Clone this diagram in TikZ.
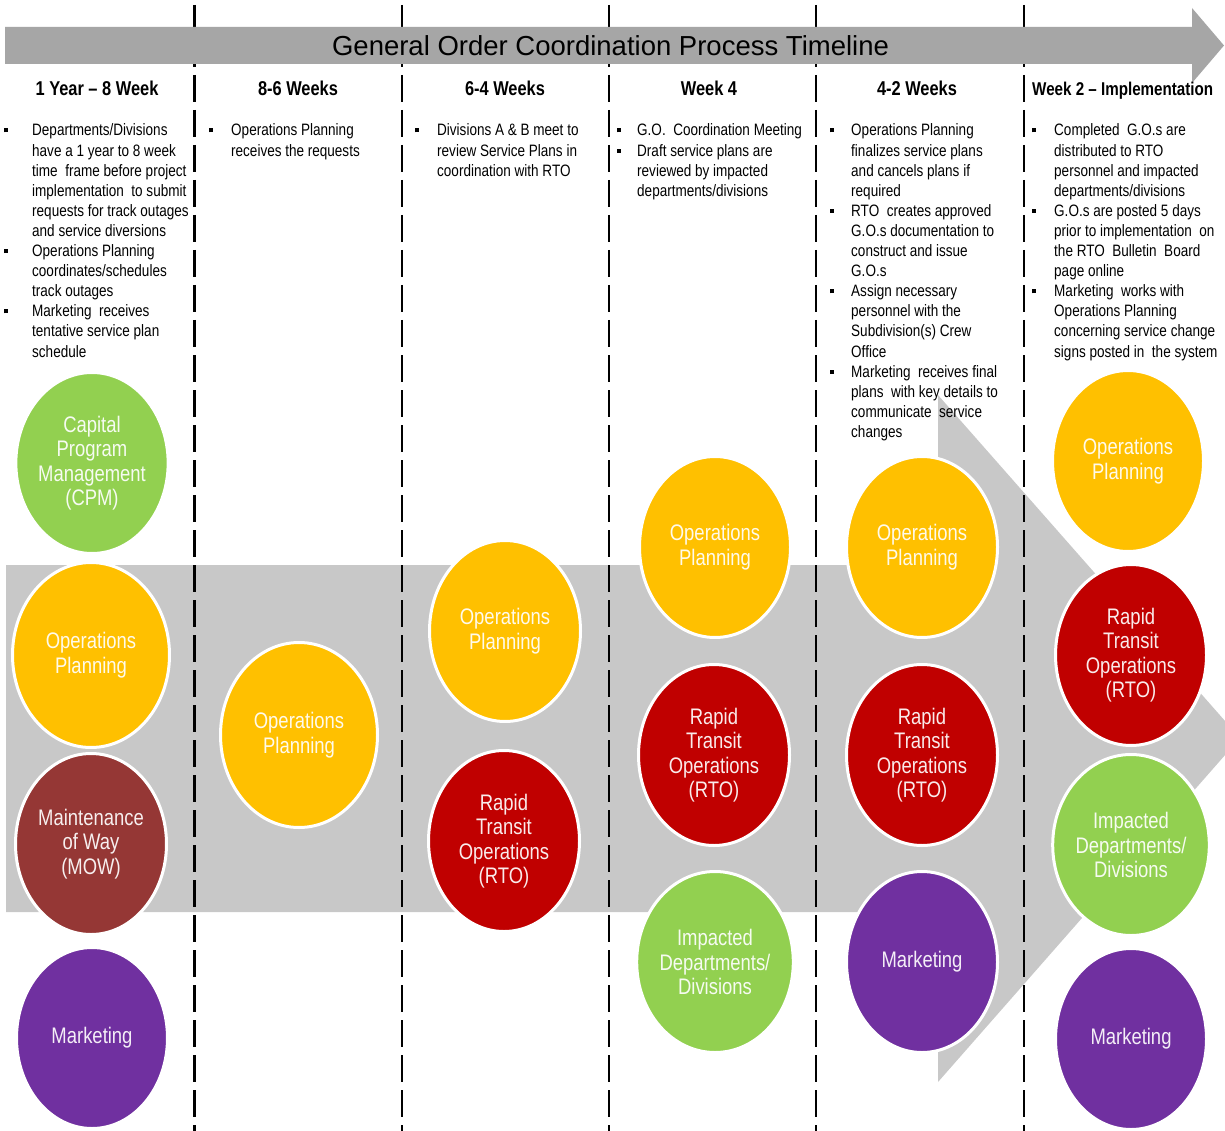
\documentclass[tikz,border=0pt]{standalone}
\usepackage{fontspec}
\setmainfont{Liberation Sans}[FakeStretch=0.82]
\newfontfamily\titlefont{Liberation Sans}
\usetikzlibrary{shapes.geometric}
\definecolor{cyel}{HTML}{FFC000}
\definecolor{cred}{HTML}{C00000}
\definecolor{cgrn}{HTML}{92D050}
\definecolor{cpur}{HTML}{7030A0}
\definecolor{cmow}{HTML}{953735}
\definecolor{bandgray}{HTML}{C8C8C8}
\definecolor{topgray}{HTML}{A6A6A6}
\newcommand{\bsq}{\rule[3.5pt]{4pt}{4pt}}
\tikzset{
  circ/.style={ellipse, fill=#1, draw=white, line width=3pt, minimum width=151pt,
    minimum height=181pt, inner sep=0pt, text=#1!8!white, align=center,
    font=\fontsize{22.5}{24.5}\selectfont},
  bigcirc/.style={minimum width=157pt, minimum height=185pt},
  colhead/.style={anchor=base, inner sep=0pt, font=\fontsize{20}{22}\selectfont\bfseries},
  coltext/.style={anchor=base west, inner sep=0pt, font=\fontsize{16.5}{20.1}\selectfont, align=left},
  divider/.style={line width=2.5pt, dash pattern=on 27pt off 8pt},
  titletext/.style={anchor=base, inner sep=0pt, font=\titlefont\fontsize{27.5}{30}\selectfont},
}
\begin{document}
\begin{tikzpicture}[x=1pt,y=-1pt]
\useasboundingbox (0,0) rectangle (1225,1131);
\clip (0,0) rectangle (1225,1131);
\fill[white] (0,0) rectangle (1225,1131);

% big background arrow
\fill[bandgray] (6,565) -- (938,565) -- (938,395) -- (1240,738) -- (938,1082) -- (938,912) -- (6,912) -- cycle;

% dividers
\foreach \name/\xx in {d1/194.5, d2/402, d3/609, d4/816, d5/1024}{
  \coordinate (\name t) at (\xx,5);
  \coordinate (\name b) at (\xx,1131);
  \draw[divider] (\name t) -- (\name b);
}

% top arrow
\fill[topgray] (5,27) -- (1192,27) -- (1192,8) -- (1224,45.5) -- (1192,83) -- (1192,64) -- (5,64) -- cycle;
\node[titletext] (title) at (610.5,56) {General Order Coordination Process Timeline};

% column headers
\node[colhead] (h1) at (97,96) {1 Year -- 8 Week};
\node[colhead] (h2) at (298,96) {8-6 Weeks};
\node[colhead] (h3) at (505,96) {6-4 Weeks};
\node[colhead] (h4) at (709,96) {Week 4};
\node[colhead] (h5) at (917,96) {4-2 Weeks};
\node[colhead, anchor=base west, font=\fontsize{18.5}{22}\selectfont\bfseries] (h6) at (1032,96) {Week 2 -- Implementation};

% column texts
\node[coltext] (t1) at (4,136) {\begin{tabular}[t]{@{}p{28pt}@{}l@{}}
\bsq & Departments/Divisions\\
 & have a 1 year to 8 week\\
 & time\ \ frame before project\\
 & implementation\ \ to submit\\
 & requests for track outages\\
 & and service diversions\\
\bsq & Operations Planning\\
 & coordinates/schedules\\
 & track outages\\
\bsq & Marketing\ \ receives\\
 & tentative service plan\\
 & schedule
\end{tabular}};

\node[coltext] (t2) at (209,136) {\begin{tabular}[t]{@{}p{22pt}@{}l@{}}
\bsq & Operations Planning\\
 & receives the requests
\end{tabular}};

\node[coltext] (t3) at (415,136) {\begin{tabular}[t]{@{}p{22pt}@{}l@{}}
\bsq & Divisions A \& B meet to\\
 & review Service Plans in\\
 & coordination with RTO
\end{tabular}};

\node[coltext] (t4) at (617,136) {\begin{tabular}[t]{@{}p{20pt}@{}l@{}}
\bsq & G.O.\ \ Coordination Meeting\\
\bsq & Draft service plans are\\
 & reviewed by impacted\\
 & departments/divisions
\end{tabular}};

\node[coltext] (t5) at (830,136) {\begin{tabular}[t]{@{}p{21pt}@{}l@{}}
\bsq & Operations Planning\\
 & finalizes service plans\\
 & and cancels plans if\\
 & required\\
\bsq & RTO\ \ creates approved\\
 & G.O.s documentation to\\
 & construct and issue\\
 & G.O.s\\
\bsq & Assign necessary\\
 & personnel with the\\
 & Subdivision(s) Crew\\
 & Office\\
\bsq & Marketing\ \ receives final\\
 & plans\ \ with key details to\\
 & communicate\ \ service\\
 & changes
\end{tabular}};

\node[coltext] (t6) at (1032,136) {\begin{tabular}[t]{@{}p{22pt}@{}l@{}}
\bsq & Completed\ \ G.O.s are\\
 & distributed to RTO\\
 & personnel and impacted\\
 & departments/divisions\\
\bsq & G.O.s are posted 5 days\\
 & prior to implementation\ \ on\\
 & the RTO\ \ Bulletin\ \ Board\\
 & page online\\
\bsq & Marketing\ \ works with\\
 & Operations Planning\\
 & concerning service change\\
 & signs posted in\ \ the system
\end{tabular}};

% circles
\node[circ=cgrn] (c1a) at (92,463) {Capital\\Program\\Management\\(CPM)};
\node[circ=cyel, bigcirc] (c1b) at (91,655) {Operations\\Planning};
\node[circ=cmow] (c1c) at (91,844) {Maintenance\\of Way\\(MOW)};
\node[circ=cpur] (c1d) at (92,1038) {Marketing};

\node[circ=cyel, bigcirc] (c2a) at (299,735) {Operations\\Planning};

\node[circ=cyel] (c3a) at (505,631) {Operations\\Planning};
\node[circ=cred] (c3b) at (504,841) {Rapid\\Transit\\Operations\\(RTO)};

\node[circ=cyel] (c4a) at (715,547) {Operations\\Planning};
\node[circ=cred] (c4b) at (714,755) {Rapid\\Transit\\Operations\\(RTO)};
\node[circ=cgrn] (c4c) at (715,962) {Impacted\\Departments/\\Divisions};

\node[circ=cyel] (c5a) at (922,547) {Operations\\Planning};
\node[circ=cred] (c5b) at (922,755) {Rapid\\Transit\\Operations\\(RTO)};
\node[circ=cpur] (c5c) at (922,962) {Marketing};

\node[circ=cyel] (c6a) at (1128,461) {Operations\\Planning};
\node[circ=cred] (c6b) at (1131,655) {Rapid\\Transit\\Operations\\(RTO)};
\node[circ=cgrn] (c6c) at (1131,845) {Impacted\\Departments/\\Divisions};
\node[circ=cpur] (c6d) at (1131,1039) {Marketing};
\end{tikzpicture}
\end{document}
